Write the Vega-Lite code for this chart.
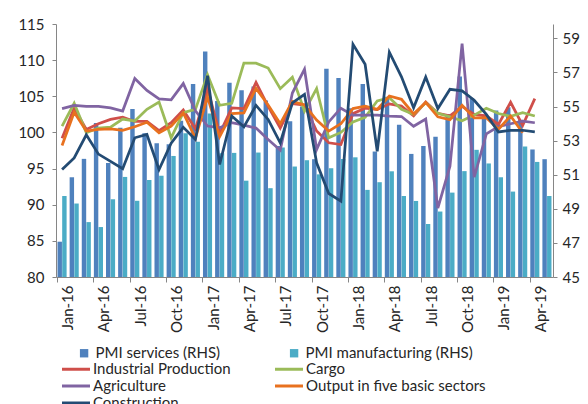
{
  "$schema": "https://vega.github.io/schema/vega-lite/v6.json",
  "width": 497,
  "height": 253,
  "autosize": {"type": "none"},
  "padding": {"left": 56, "top": 24, "right": 35, "bottom": 127},
  "background": "white",
  "config": {
    "font": "Lato",
    "view": {"stroke": null},
    "axis": {"labelFont": "Lato", "labelFontSize": 15, "labelColor": "#262626", "domainColor": "#868686", "tickColor": "#868686", "grid": false, "title": null, "tickSize": 4},
    "legend": {"labelFont": "Lato", "labelFontSize": 15, "labelColor": "#262626", "labelLimit": 400, "padding": 0, "title": null}
  },
  "datasets": {
    "bars": [
      {"m":"Jan-16","s":"PMI services (RHS)","v":47.07},{"m":"Jan-16","s":"PMI manufacturing (RHS)","v":49.75},
      {"m":"Feb-16","s":"PMI services (RHS)","v":50.85},{"m":"Feb-16","s":"PMI manufacturing (RHS)","v":49.31},
      {"m":"Mar-16","s":"PMI services (RHS)","v":51.93},{"m":"Mar-16","s":"PMI manufacturing (RHS)","v":48.22},
      {"m":"Apr-16","s":"PMI services (RHS)","v":54.03},{"m":"Apr-16","s":"PMI manufacturing (RHS)","v":47.93},
      {"m":"May-16","s":"PMI services (RHS)","v":51.68},{"m":"May-16","s":"PMI manufacturing (RHS)","v":49.56},
      {"m":"Jun-16","s":"PMI services (RHS)","v":53.75},{"m":"Jun-16","s":"PMI manufacturing (RHS)","v":50.87},
      {"m":"Jul-16","s":"PMI services (RHS)","v":54.85},{"m":"Jul-16","s":"PMI manufacturing (RHS)","v":49.47},
      {"m":"Aug-16","s":"PMI services (RHS)","v":53.43},{"m":"Aug-16","s":"PMI manufacturing (RHS)","v":50.69},
      {"m":"Sep-16","s":"PMI services (RHS)","v":52.85},{"m":"Sep-16","s":"PMI manufacturing (RHS)","v":50.94},
      {"m":"Oct-16","s":"PMI services (RHS)","v":52.79},{"m":"Oct-16","s":"PMI manufacturing (RHS)","v":52.1},
      {"m":"Nov-16","s":"PMI services (RHS)","v":54.17},{"m":"Nov-16","s":"PMI manufacturing (RHS)","v":53.43},
      {"m":"Dec-16","s":"PMI services (RHS)","v":56.32},{"m":"Dec-16","s":"PMI manufacturing (RHS)","v":52.94},
      {"m":"Jan-17","s":"PMI services (RHS)","v":58.22},{"m":"Jan-17","s":"PMI manufacturing (RHS)","v":54.59},
      {"m":"Feb-17","s":"PMI services (RHS)","v":55.33},{"m":"Feb-17","s":"PMI manufacturing (RHS)","v":52.26},
      {"m":"Mar-17","s":"PMI services (RHS)","v":56.39},{"m":"Mar-17","s":"PMI manufacturing (RHS)","v":52.28},
      {"m":"Apr-17","s":"PMI services (RHS)","v":55.95},{"m":"Apr-17","s":"PMI manufacturing (RHS)","v":50.65},
      {"m":"May-17","s":"PMI services (RHS)","v":56.18},{"m":"May-17","s":"PMI manufacturing (RHS)","v":52.3},
      {"m":"Jun-17","s":"PMI services (RHS)","v":55.36},{"m":"Jun-17","s":"PMI manufacturing (RHS)","v":50.21},
      {"m":"Jul-17","s":"PMI services (RHS)","v":52.69},{"m":"Jul-17","s":"PMI manufacturing (RHS)","v":52.6},
      {"m":"Aug-17","s":"PMI services (RHS)","v":54.13},{"m":"Aug-17","s":"PMI manufacturing (RHS)","v":51.48},
      {"m":"Sep-17","s":"PMI services (RHS)","v":55.0},{"m":"Sep-17","s":"PMI manufacturing (RHS)","v":51.85},
      {"m":"Oct-17","s":"PMI services (RHS)","v":51.91},{"m":"Oct-17","s":"PMI manufacturing (RHS)","v":51.02},
      {"m":"Nov-17","s":"PMI services (RHS)","v":57.21},{"m":"Nov-17","s":"PMI manufacturing (RHS)","v":51.38},
      {"m":"Dec-17","s":"PMI services (RHS)","v":56.67},{"m":"Dec-17","s":"PMI manufacturing (RHS)","v":51.92},
      {"m":"Jan-18","s":"PMI services (RHS)","v":54.9},{"m":"Jan-18","s":"PMI manufacturing (RHS)","v":52.02},
      {"m":"Feb-18","s":"PMI services (RHS)","v":56.32},{"m":"Feb-18","s":"PMI manufacturing (RHS)","v":50.11},
      {"m":"Mar-18","s":"PMI services (RHS)","v":52.36},{"m":"Mar-18","s":"PMI manufacturing (RHS)","v":50.56},
      {"m":"Apr-18","s":"PMI services (RHS)","v":55.58},{"m":"Apr-18","s":"PMI manufacturing (RHS)","v":51.2},
      {"m":"May-18","s":"PMI services (RHS)","v":53.93},{"m":"May-18","s":"PMI manufacturing (RHS)","v":49.75},
      {"m":"Jun-18","s":"PMI services (RHS)","v":52.22},{"m":"Jun-18","s":"PMI manufacturing (RHS)","v":49.46},
      {"m":"Jul-18","s":"PMI services (RHS)","v":52.68},{"m":"Jul-18","s":"PMI manufacturing (RHS)","v":48.11},
      {"m":"Aug-18","s":"PMI services (RHS)","v":53.23},{"m":"Aug-18","s":"PMI manufacturing (RHS)","v":48.84},
      {"m":"Sep-18","s":"PMI services (RHS)","v":54.56},{"m":"Sep-18","s":"PMI manufacturing (RHS)","v":49.95},
      {"m":"Oct-18","s":"PMI services (RHS)","v":56.76},{"m":"Oct-18","s":"PMI manufacturing (RHS)","v":51.21},
      {"m":"Nov-18","s":"PMI services (RHS)","v":55.49},{"m":"Nov-18","s":"PMI manufacturing (RHS)","v":52.46},
      {"m":"Dec-18","s":"PMI services (RHS)","v":54.47},{"m":"Dec-18","s":"PMI manufacturing (RHS)","v":51.66},
      {"m":"Jan-19","s":"PMI services (RHS)","v":54.77},{"m":"Jan-19","s":"PMI manufacturing (RHS)","v":50.85},
      {"m":"Feb-19","s":"PMI services (RHS)","v":54.96},{"m":"Feb-19","s":"PMI manufacturing (RHS)","v":50.01},
      {"m":"Mar-19","s":"PMI services (RHS)","v":54.22},{"m":"Mar-19","s":"PMI manufacturing (RHS)","v":52.66},
      {"m":"Apr-19","s":"PMI services (RHS)","v":52.48},{"m":"Apr-19","s":"PMI manufacturing (RHS)","v":51.75},
      {"m":"May-19","s":"PMI services (RHS)","v":51.91},{"m":"May-19","s":"PMI manufacturing (RHS)","v":49.75}
    ],
    "lines": [
      {"m":"Jan-16","s":"Industrial Production","v":99.2},{"m":"Feb-16","s":"Industrial Production","v":103.4},{"m":"Mar-16","s":"Industrial Production","v":100.4},{"m":"Apr-16","s":"Industrial Production","v":101.2},{"m":"May-16","s":"Industrial Production","v":101.8},{"m":"Jun-16","s":"Industrial Production","v":102.1},{"m":"Jul-16","s":"Industrial Production","v":101.52},{"m":"Aug-16","s":"Industrial Production","v":101.52},{"m":"Sep-16","s":"Industrial Production","v":100.25},{"m":"Oct-16","s":"Industrial Production","v":101.34},{"m":"Nov-16","s":"Industrial Production","v":103.1},{"m":"Dec-16","s":"Industrial Production","v":100.5},
      {"m":"Jan-17","s":"Industrial Production","v":106.1},{"m":"Feb-17","s":"Industrial Production","v":99.85},{"m":"Mar-17","s":"Industrial Production","v":103.4},{"m":"Apr-17","s":"Industrial Production","v":103.29},{"m":"May-17","s":"Industrial Production","v":106.93},{"m":"Jun-17","s":"Industrial Production","v":103.6},{"m":"Jul-17","s":"Industrial Production","v":100.6},{"m":"Aug-17","s":"Industrial Production","v":104.0},{"m":"Sep-17","s":"Industrial Production","v":103.78},{"m":"Oct-17","s":"Industrial Production","v":100.2},{"m":"Nov-17","s":"Industrial Production","v":98.57},{"m":"Dec-17","s":"Industrial Production","v":98.33},
      {"m":"Jan-18","s":"Industrial Production","v":102.6},{"m":"Feb-18","s":"Industrial Production","v":103.35},{"m":"Mar-18","s":"Industrial Production","v":103.15},{"m":"Apr-18","s":"Industrial Production","v":103.95},{"m":"May-18","s":"Industrial Production","v":103.65},{"m":"Jun-18","s":"Industrial Production","v":102.3},{"m":"Jul-18","s":"Industrial Production","v":104.2},{"m":"Aug-18","s":"Industrial Production","v":102.65},{"m":"Sep-18","s":"Industrial Production","v":102.3},{"m":"Oct-18","s":"Industrial Production","v":103.6},{"m":"Nov-18","s":"Industrial Production","v":102.5},{"m":"Dec-18","s":"Industrial Production","v":102.3},
      {"m":"Jan-19","s":"Industrial Production","v":101.1},{"m":"Feb-19","s":"Industrial Production","v":104.17},{"m":"Mar-19","s":"Industrial Production","v":100.97},{"m":"Apr-19","s":"Industrial Production","v":104.68},
      {"m":"Jan-16","s":"Cargo","v":100.88},{"m":"Feb-16","s":"Cargo","v":104.03},{"m":"Mar-16","s":"Cargo","v":99.95},{"m":"Apr-16","s":"Cargo","v":100.6},{"m":"May-16","s":"Cargo","v":100.72},{"m":"Jun-16","s":"Cargo","v":101.85},{"m":"Jul-16","s":"Cargo","v":101.57},{"m":"Aug-16","s":"Cargo","v":103.19},{"m":"Sep-16","s":"Cargo","v":104.2},{"m":"Oct-16","s":"Cargo","v":99.26},{"m":"Nov-16","s":"Cargo","v":102.73},{"m":"Dec-16","s":"Cargo","v":103.19},
      {"m":"Jan-17","s":"Cargo","v":108.0},{"m":"Feb-17","s":"Cargo","v":103.75},{"m":"Mar-17","s":"Cargo","v":104.03},{"m":"Apr-17","s":"Cargo","v":109.58},{"m":"May-17","s":"Cargo","v":109.58},{"m":"Jun-17","s":"Cargo","v":108.9},{"m":"Jul-17","s":"Cargo","v":106.06},{"m":"Aug-17","s":"Cargo","v":107.65},{"m":"Sep-17","s":"Cargo","v":102.96},{"m":"Oct-17","s":"Cargo","v":106.08},{"m":"Nov-17","s":"Cargo","v":99.26},{"m":"Dec-17","s":"Cargo","v":100.0},
      {"m":"Jan-18","s":"Cargo","v":101.45},{"m":"Feb-18","s":"Cargo","v":102.1},{"m":"Mar-18","s":"Cargo","v":104.35},{"m":"Apr-18","s":"Cargo","v":104.8},{"m":"May-18","s":"Cargo","v":103.2},{"m":"Jun-18","s":"Cargo","v":102.5},{"m":"Jul-18","s":"Cargo","v":104.1},{"m":"Aug-18","s":"Cargo","v":102.65},{"m":"Sep-18","s":"Cargo","v":102.15},{"m":"Oct-18","s":"Cargo","v":101.62},{"m":"Nov-18","s":"Cargo","v":102.4},{"m":"Dec-18","s":"Cargo","v":103.35},
      {"m":"Jan-19","s":"Cargo","v":102.62},{"m":"Feb-19","s":"Cargo","v":102.22},{"m":"Mar-19","s":"Cargo","v":102.73},{"m":"Apr-19","s":"Cargo","v":102.27},
      {"m":"Jan-16","s":"Agriculture","v":103.3},{"m":"Feb-16","s":"Agriculture","v":103.75},{"m":"Mar-16","s":"Agriculture","v":103.6},{"m":"Apr-16","s":"Agriculture","v":103.6},{"m":"May-16","s":"Agriculture","v":103.4},{"m":"Jun-16","s":"Agriculture","v":102.95},{"m":"Jul-16","s":"Agriculture","v":107.46},{"m":"Aug-16","s":"Agriculture","v":105.8},{"m":"Sep-16","s":"Agriculture","v":104.65},{"m":"Oct-16","s":"Agriculture","v":104.5},{"m":"Nov-16","s":"Agriculture","v":106.76},{"m":"Dec-16","s":"Agriculture","v":103.0},
      {"m":"Jan-17","s":"Agriculture","v":100.88},{"m":"Feb-17","s":"Agriculture","v":100.65},{"m":"Mar-17","s":"Agriculture","v":101.34},{"m":"Apr-17","s":"Agriculture","v":101.0},{"m":"May-17","s":"Agriculture","v":100.6},{"m":"Jun-17","s":"Agriculture","v":99.03},{"m":"Jul-17","s":"Agriculture","v":97.54},{"m":"Aug-17","s":"Agriculture","v":105.45},{"m":"Sep-17","s":"Agriculture","v":108.75},{"m":"Oct-17","s":"Agriculture","v":97.64},{"m":"Nov-17","s":"Agriculture","v":101.45},{"m":"Dec-17","s":"Agriculture","v":103.35},
      {"m":"Jan-18","s":"Agriculture","v":102.4},{"m":"Feb-18","s":"Agriculture","v":102.4},{"m":"Mar-18","s":"Agriculture","v":102.4},{"m":"Apr-18","s":"Agriculture","v":102.25},{"m":"May-18","s":"Agriculture","v":102.2},{"m":"Jun-18","s":"Agriculture","v":100.85},{"m":"Jul-18","s":"Agriculture","v":101.85},{"m":"Aug-18","s":"Agriculture","v":89.54},{"m":"Sep-18","s":"Agriculture","v":95.32},{"m":"Oct-18","s":"Agriculture","v":112.3},{"m":"Nov-18","s":"Agriculture","v":93.8},{"m":"Dec-18","s":"Agriculture","v":99.8},
      {"m":"Jan-19","s":"Agriculture","v":100.8},{"m":"Feb-19","s":"Agriculture","v":101.2},{"m":"Mar-19","s":"Agriculture","v":101.57},{"m":"Apr-19","s":"Agriculture","v":101.34},
      {"m":"Jan-16","s":"Output in five basic sectors","v":98.2},{"m":"Feb-16","s":"Output in five basic sectors","v":102.78},{"m":"Mar-16","s":"Output in five basic sectors","v":100.18},{"m":"Apr-16","s":"Output in five basic sectors","v":100.42},{"m":"May-16","s":"Output in five basic sectors","v":100.5},{"m":"Jun-16","s":"Output in five basic sectors","v":100.3},{"m":"Jul-16","s":"Output in five basic sectors","v":100.79},{"m":"Aug-16","s":"Output in five basic sectors","v":101.4},{"m":"Sep-16","s":"Output in five basic sectors","v":99.95},{"m":"Oct-16","s":"Output in five basic sectors","v":100.88},{"m":"Nov-16","s":"Output in five basic sectors","v":102.7},{"m":"Dec-16","s":"Output in five basic sectors","v":99.2},
      {"m":"Jan-17","s":"Output in five basic sectors","v":104.9},{"m":"Feb-17","s":"Output in five basic sectors","v":99.4},{"m":"Mar-17","s":"Output in five basic sectors","v":102.6},{"m":"Apr-17","s":"Output in five basic sectors","v":102.7},{"m":"May-17","s":"Output in five basic sectors","v":106.1},{"m":"Jun-17","s":"Output in five basic sectors","v":103.8},{"m":"Jul-17","s":"Output in five basic sectors","v":101.2},{"m":"Aug-17","s":"Output in five basic sectors","v":104.3},{"m":"Sep-17","s":"Output in five basic sectors","v":103.8},{"m":"Oct-17","s":"Output in five basic sectors","v":101.7},{"m":"Nov-17","s":"Output in five basic sectors","v":100.18},{"m":"Dec-17","s":"Output in five basic sectors","v":101.2},
      {"m":"Jan-18","s":"Output in five basic sectors","v":103.3},{"m":"Feb-18","s":"Output in five basic sectors","v":103.65},{"m":"Mar-18","s":"Output in five basic sectors","v":103.19},{"m":"Apr-18","s":"Output in five basic sectors","v":105.04},{"m":"May-18","s":"Output in five basic sectors","v":104.58},{"m":"Jun-18","s":"Output in five basic sectors","v":102.55},{"m":"Jul-18","s":"Output in five basic sectors","v":104.15},{"m":"Aug-18","s":"Output in five basic sectors","v":102.15},{"m":"Sep-18","s":"Output in five basic sectors","v":101.75},{"m":"Oct-18","s":"Output in five basic sectors","v":103.75},{"m":"Nov-18","s":"Output in five basic sectors","v":102.0},{"m":"Dec-18","s":"Output in five basic sectors","v":102.04},
      {"m":"Jan-19","s":"Output in five basic sectors","v":100.45},{"m":"Feb-19","s":"Output in five basic sectors","v":102.27},{"m":"Mar-19","s":"Output in five basic sectors","v":99.95},
      {"m":"Jan-16","s":"Construction","v":94.86},{"m":"Feb-16","s":"Construction","v":96.48},{"m":"Mar-16","s":"Construction","v":99.68},{"m":"Apr-16","s":"Construction","v":97.0},{"m":"May-16","s":"Construction","v":96.0},{"m":"Jun-16","s":"Construction","v":94.97},{"m":"Jul-16","s":"Construction","v":99.26},{"m":"Aug-16","s":"Construction","v":99.72},{"m":"Sep-16","s":"Construction","v":94.86},{"m":"Oct-16","s":"Construction","v":98.5},{"m":"Nov-16","s":"Construction","v":100.7},{"m":"Dec-16","s":"Construction","v":99.03},
      {"m":"Jan-17","s":"Construction","v":107.85},{"m":"Feb-17","s":"Construction","v":95.56},{"m":"Mar-17","s":"Construction","v":102.27},{"m":"Apr-17","s":"Construction","v":100.77},{"m":"May-17","s":"Construction","v":103.75},{"m":"Jun-17","s":"Construction","v":101.8},{"m":"Jul-17","s":"Construction","v":98.57},{"m":"Aug-17","s":"Construction","v":104.1},{"m":"Sep-17","s":"Construction","v":105.28},{"m":"Oct-17","s":"Construction","v":95.79},{"m":"Nov-17","s":"Construction","v":91.55},{"m":"Dec-17","s":"Construction","v":90.5},
      {"m":"Jan-18","s":"Construction","v":112.2},{"m":"Feb-18","s":"Construction","v":109.44},{"m":"Mar-18","s":"Construction","v":97.4},{"m":"Apr-18","s":"Construction","v":111.1},{"m":"May-18","s":"Construction","v":107.7},{"m":"Jun-18","s":"Construction","v":103.4},{"m":"Jul-18","s":"Construction","v":107.65},{"m":"Aug-18","s":"Construction","v":103.3},{"m":"Sep-18","s":"Construction","v":105.97},{"m":"Oct-18","s":"Construction","v":105.74},{"m":"Nov-18","s":"Construction","v":104.45},{"m":"Dec-18","s":"Construction","v":102.5},
      {"m":"Jan-19","s":"Construction","v":100.07},{"m":"Feb-19","s":"Construction","v":100.28},{"m":"Mar-19","s":"Construction","v":100.3},{"m":"Apr-19","s":"Construction","v":100.07}
    ]
  },
  "layer": [
    {
      "data": {"name": "bars"},
      "mark": {"type": "bar"},
      "encoding": {
        "x": {
          "field": "m", "type": "ordinal",
          "scale": {
            "domain": ["Jan-16","Feb-16","Mar-16","Apr-16","May-16","Jun-16","Jul-16","Aug-16","Sep-16","Oct-16","Nov-16","Dec-16","Jan-17","Feb-17","Mar-17","Apr-17","May-17","Jun-17","Jul-17","Aug-17","Sep-17","Oct-17","Nov-17","Dec-17","Jan-18","Feb-18","Mar-18","Apr-18","May-18","Jun-18","Jul-18","Aug-18","Sep-18","Oct-18","Nov-18","Dec-18","Jan-19","Feb-19","Mar-19","Apr-19","May-19"],
            "paddingInner": 0.25, "paddingOuter": 0.125
          },
          "axis": {
            "values": ["Jan-16","Apr-16","Jul-16","Oct-16","Jan-17","Apr-17","Jul-17","Oct-17","Jan-18","Apr-18","Jul-18","Oct-18","Jan-19","Apr-19"],
            "labelAngle": -90, "bandPosition": 0, "labelOffset": 6, "tickSize": 5, "labelPadding": 3
          }
        },
        "xOffset": {"field": "s", "type": "nominal", "scale": {"domain": ["PMI services (RHS)", "PMI manufacturing (RHS)"], "paddingInner": 0.05}},
        "y": {
          "field": "v", "type": "quantitative",
          "scale": {"domain": [45, 59.84], "nice": false, "zero": false},
          "axis": {"orient": "right", "values": [45,47,49,51,53,55,57,59], "labelPadding": 5}
        },
        "y2": {"datum": 45},
        "fill": {
          "field": "s", "type": "nominal",
          "scale": {"domain": ["PMI services (RHS)", "PMI manufacturing (RHS)"], "range": ["#4F81BD", "#4BACC6"]},
          "legend": {
            "orient": "none", "legendX": 20.6, "legendY": 321.5, "columns": 2, "direction": "horizontal",
            "symbolType": "square", "symbolSize": 70, "symbolStrokeWidth": 0, "symbolOpacity": 1,
            "labelOffset": 4, "columnPadding": 66
          }
        }
      }
    },
    {
      "data": {"name": "lines"},
      "mark": {"type": "line", "strokeWidth": 2.75},
      "encoding": {
        "x": {"field": "m", "type": "ordinal"},
        "y": {
          "field": "v", "type": "quantitative",
          "scale": {"domain": [80, 115], "nice": false, "zero": false},
          "axis": {"orient": "left", "values": [80,85,90,95,100,105,110,115], "labelPadding": 8}
        },
        "stroke": {
          "field": "s", "type": "nominal",
          "scale": {"domain": ["Industrial Production", "Cargo", "Agriculture", "Output in five basic sectors", "Construction"], "range": ["#CF4F4A", "#9BBB59", "#8064A2", "#E8711F", "#234B73"]},
          "legend": {
            "orient": "none", "legendX": 4, "legendY": 337.5, "columns": 2, "direction": "horizontal",
            "symbolType": "M-1.375,0H5.625", "symbolSize": 64, "symbolStrokeWidth": 3, "symbolOpacity": 1,
            "labelOffset": 18, "columnPadding": 38, "rowPadding": 1
          }
        }
      }
    }
  ],
  "resolve": {"scale": {"y": "independent"}}
}
